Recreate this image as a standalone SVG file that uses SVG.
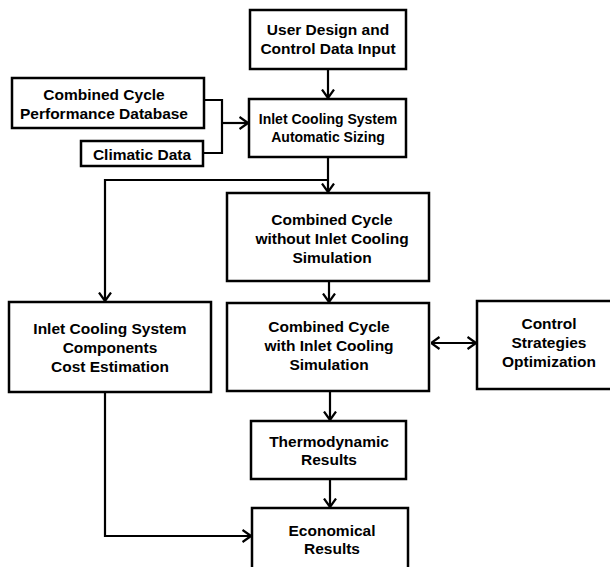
<svg xmlns="http://www.w3.org/2000/svg" width="610" height="567" viewBox="0 0 610 567">
<defs>
<style>
.box{fill:#fff;stroke:#000;stroke-width:2.5}
.t{font-family:"Liberation Sans",Arial,sans-serif;font-weight:bold;font-size:15.5px;text-anchor:middle;fill:#000}
.s{font-size:14px}
.c{fill:none;stroke:#000;stroke-width:2.2}
</style>
<marker id="ah" viewBox="0 0 10 14" refX="9.5" refY="7" markerWidth="10" markerHeight="14" markerUnits="userSpaceOnUse" orient="auto-start-reverse">
<path d="M1,1 L9.5,7 L1,13" fill="none" stroke="#000" stroke-width="2.2"/>
</marker>
</defs>
<rect width="610" height="567" fill="#fff"/>
<g id="connectors">
<line class="c" x1="328" y1="69" x2="328" y2="98" marker-end="url(#ah)"/>
<polyline class="c" points="204,100 222,100 222,153 203,153"/>
<line class="c" x1="222" y1="123" x2="248" y2="123" marker-end="url(#ah)"/>
<line class="c" x1="328" y1="157" x2="328" y2="192" marker-end="url(#ah)"/>
<polyline class="c" points="328,180 105,180 105,301" marker-end="url(#ah)"/>
<line class="c" x1="329" y1="281" x2="329" y2="302" marker-end="url(#ah)"/>
<line class="c" x1="431" y1="343" x2="476" y2="343" marker-start="url(#ah)" marker-end="url(#ah)"/>
<line class="c" x1="330" y1="391" x2="330" y2="420" marker-end="url(#ah)"/>
<line class="c" x1="330" y1="479" x2="330" y2="507" marker-end="url(#ah)"/>
<polyline class="c" points="105,392 105,536 251,536" marker-end="url(#ah)"/>
</g>
<g id="user-input">
<rect class="box" x="250" y="10" width="156" height="59"/>
<text class="t" x="328" y="34.5">User Design and</text>
<text class="t" x="328" y="53.5">Control Data Input</text>
</g>
<g id="cc-database">
<rect class="box" x="12" y="78" width="192" height="50"/>
<text class="t" x="104" y="99.5">Combined Cycle</text>
<text class="t" x="104" y="118.5">Performance Database</text>
</g>
<g id="climatic">
<rect class="box" x="81" y="141" width="122" height="25"/>
<text class="t" x="142" y="159.5">Climatic Data</text>
</g>
<g id="sizing">
<rect class="box" x="249" y="99" width="157" height="58"/>
<text class="t s" x="328" y="124">Inlet Cooling System</text>
<text class="t s" x="328" y="142">Automatic Sizing</text>
</g>
<g id="without">
<rect class="box" x="227" y="193" width="202" height="88"/>
<text class="t" x="332" y="224.5">Combined Cycle</text>
<text class="t" x="332" y="243.5">without Inlet Cooling</text>
<text class="t" x="332" y="262.5">Simulation</text>
</g>
<g id="cost">
<rect class="box" x="9" y="302" width="202" height="90"/>
<text class="t" x="110" y="333.5">Inlet Cooling System</text>
<text class="t" x="110" y="352.5">Components</text>
<text class="t" x="110" y="371.5">Cost Estimation</text>
</g>
<g id="with">
<rect class="box" x="227" y="303" width="202" height="88"/>
<text class="t" x="329" y="331.5">Combined Cycle</text>
<text class="t" x="329" y="350.5">with Inlet Cooling</text>
<text class="t" x="329" y="369.5">Simulation</text>
</g>
<g id="control">
<rect class="box" x="477" y="301" width="140" height="88"/>
<text class="t" x="549" y="328.5">Control</text>
<text class="t" x="549" y="347.5">Strategies</text>
<text class="t" x="549" y="366.5">Optimization</text>
</g>
<g id="thermo">
<rect class="box" x="251" y="421" width="155" height="58"/>
<text class="t" x="329" y="446.5">Thermodynamic</text>
<text class="t" x="329" y="464.5">Results</text>
</g>
<g id="economical">
<rect class="box" x="252" y="508" width="156" height="70"/>
<text class="t" x="332" y="535.5">Economical</text>
<text class="t" x="332" y="553.5">Results</text>
</g>
</svg>
